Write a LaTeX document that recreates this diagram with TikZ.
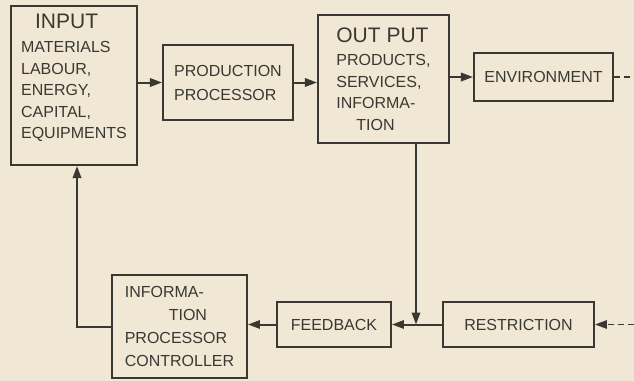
\documentclass[tikz,border=0pt]{standalone}
\usepackage{fontspec}
\setmainfont{Liberation Sans}
\usepackage{tikz}
\usetikzlibrary{arrows.meta, positioning}
\definecolor{paper}{HTML}{F0E8D4}
\definecolor{ink}{HTML}{3A3833}
\tikzset{
  box/.style={
    rectangle, draw=ink, line width=1pt, fill=paper, text=ink,
    align=left, inner sep=2pt,
    font=\fontsize{8}{10.8}\selectfont
  },
  arrow/.style={-{Triangle[length=6pt,width=4.2pt]}, line width=1pt, color=ink},
  dashlink/.style={line width=0.9pt, color=ink, dash pattern=on 3pt off 2pt}
}

\begin{document}
\begin{tikzpicture}[x=0.5pt, y=-0.5pt]
  \fill[paper] (0,0) rectangle (634,381);
  \useasboundingbox (0,0) rectangle (634,381);

  \node[box, minimum width=63pt, minimum height=79.5pt] (input) at (74,85.5)
    {\hspace*{7pt}{\fontsize{10.5}{13}\selectfont INPUT}\\[1pt]
     MATERIALS\\ LABOUR,\\ ENERGY,\\ CAPITAL,\\ EQUIPMENTS\\[-2pt]};
  \node[box, minimum width=65pt, minimum height=37.5pt,
        font=\fontsize{8}{12}\selectfont] (prod) at (228,82.5)
    {PRODUCTION\\ PROCESSOR};
  \node[box, minimum width=65.5pt, minimum height=64pt] (output) at (383.5,79)
    {{\fontsize{10.5}{13}\selectfont OUT PUT}\\[1pt]
     PRODUCTS,\\ SERVICES,\\ INFORMA-\\ \hspace*{10pt}TION};
  \node[box, minimum width=69.5pt, minimum height=24pt] (env) at (543.5,77)
    {ENVIRONMENT};
  \node[box, minimum width=75.5pt, minimum height=22.5pt] (restr) at (518.5,324.5)
    {RESTRICTION};
  \node[box, minimum width=57pt, minimum height=22.5pt] (feedback) at (334,324.5)
    {FEEDBACK};
  \node[box, minimum width=67.5pt, minimum height=51.5pt,
        font=\fontsize{8}{11.5}\selectfont] (info) at (179.5,326.5)
    {INFORMA-\\ \hspace*{22pt}TION\\ PROCESSOR\\ CONTROLLER};

  \coordinate (envend) at (634,77);
  \coordinate (restrin) at (634,324.5);
  \coordinate (join) at (416,324.5);
  \coordinate (back) at (77,326.5);

  \draw[arrow] (input.east |- prod.west) -- (prod.west);
  \draw[arrow] (prod.east) -- (output.west |- prod.east);
  \draw[arrow] (output.east |- env.west) -- (env.west);
  \draw[dashlink] (env.east) -- (envend);
  \draw[dashlink, -{Triangle[length=6pt,width=4.2pt]}] (restrin) -- (restr.east);

  % output goes down to feedback
  \draw[arrow] (output.south -| join) -- (join);
  \draw[arrow] (restr.west) -- (feedback.east);
  \draw[arrow] (feedback.west) -- (info.east |- feedback.west);
  \draw[arrow] (info.west |- back) -- (back) -- (input.south -| back);
\end{tikzpicture}
\end{document}
